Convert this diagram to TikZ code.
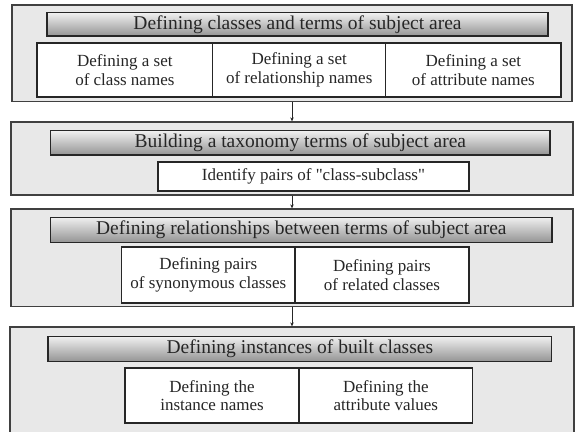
\documentclass[tikz,border=0pt]{standalone}
\usepackage{fontspec}
\setmainfont{Liberation Serif}[Ligatures=TeXOff]
\usetikzlibrary{arrows.meta,positioning}

\tikzset{
	stage/.style={draw=black!75,line width=1.3pt,fill=black!9,inner sep=0pt},
	titlebar/.style={draw=black!85,line width=1.5pt,top color=black!6,bottom color=black!42,inner sep=0pt,text=black!85,font=\fontsize{19.5}{21}\selectfont},
	cell/.style={draw=black!85,line width=1.2pt,fill=white,inner sep=0pt,align=center,text=black!85,font=\fontsize{17}{18.5}\selectfont},
	flow/.style={-{Stealth[length=4pt,width=3.5pt]},line width=0.8pt,black!85},
}

\begin{document}
\begin{tikzpicture}[x=1pt,y=-1pt]
	\useasboundingbox (0,0) rectangle (577,431);
	% stage 1
	\node[stage,minimum width=560,minimum height=96.7] (stage1) at (292,53.35) {};
	\node[titlebar,minimum width=501,minimum height=23.3] (title1) at (297.5,24.35) {Defining classes and terms of subject area};
	\node[cell,minimum width=175.7,minimum height=54] (classnames) at (124.85,70) {Defining a set\\of class names};
	\node[cell,minimum width=173,minimum height=54] (relnames) at (299.2,70) {Defining a set\\of relationship names};
	\node[cell,minimum width=175.3,minimum height=54] (attrnames) at (473.35,70) {Defining a set\\of attribute names};
	% stage 2
	\node[stage,minimum width=562,minimum height=73] (stage2) at (292,158.5) {};
	\node[titlebar,minimum width=499.3,minimum height=24.3] (title2) at (300.35,142.85) {Building a taxonomy terms of subject area};
	\node[cell,minimum width=311,minimum height=29] (subclass) at (313.5,176.5) {Identify pairs of "class-subclass"};
	% stage 3
	\node[stage,minimum width=562,minimum height=97.7] (stage3) at (292,257.85) {};
	\node[titlebar,minimum width=501.3,minimum height=25] (title3) at (301.35,229.8) {Defining relationships between terms of subject area};
	\node[cell,minimum width=173.3,minimum height=56] (synpairs) at (208.35,275) {Defining pairs\\of synonymous classes};
	\node[cell,minimum width=174,minimum height=56] (relpairs) at (382,275) {Defining pairs\\of related classes};
	% stage 4
	\node[stage,minimum width=564,minimum height=113] (stage4) at (292,383.5) {};
	\node[titlebar,minimum width=503.7,minimum height=25] (title4) at (299.85,349) {Defining instances of built classes};
	\node[cell,minimum width=174,minimum height=55] (instnames) at (212,395.5) {Defining the\\instance names};
	\node[cell,minimum width=173.7,minimum height=55] (attrvalues) at (385.85,395.5) {Defining the\\attribute values};
	% arrows
	\draw[flow] (stage1.south) -- (stage2.north);
	\draw[flow] (stage2.south) -- (stage3.north);
	\draw[flow] (stage3.south) -- (stage4.north);
\end{tikzpicture}
\end{document}
